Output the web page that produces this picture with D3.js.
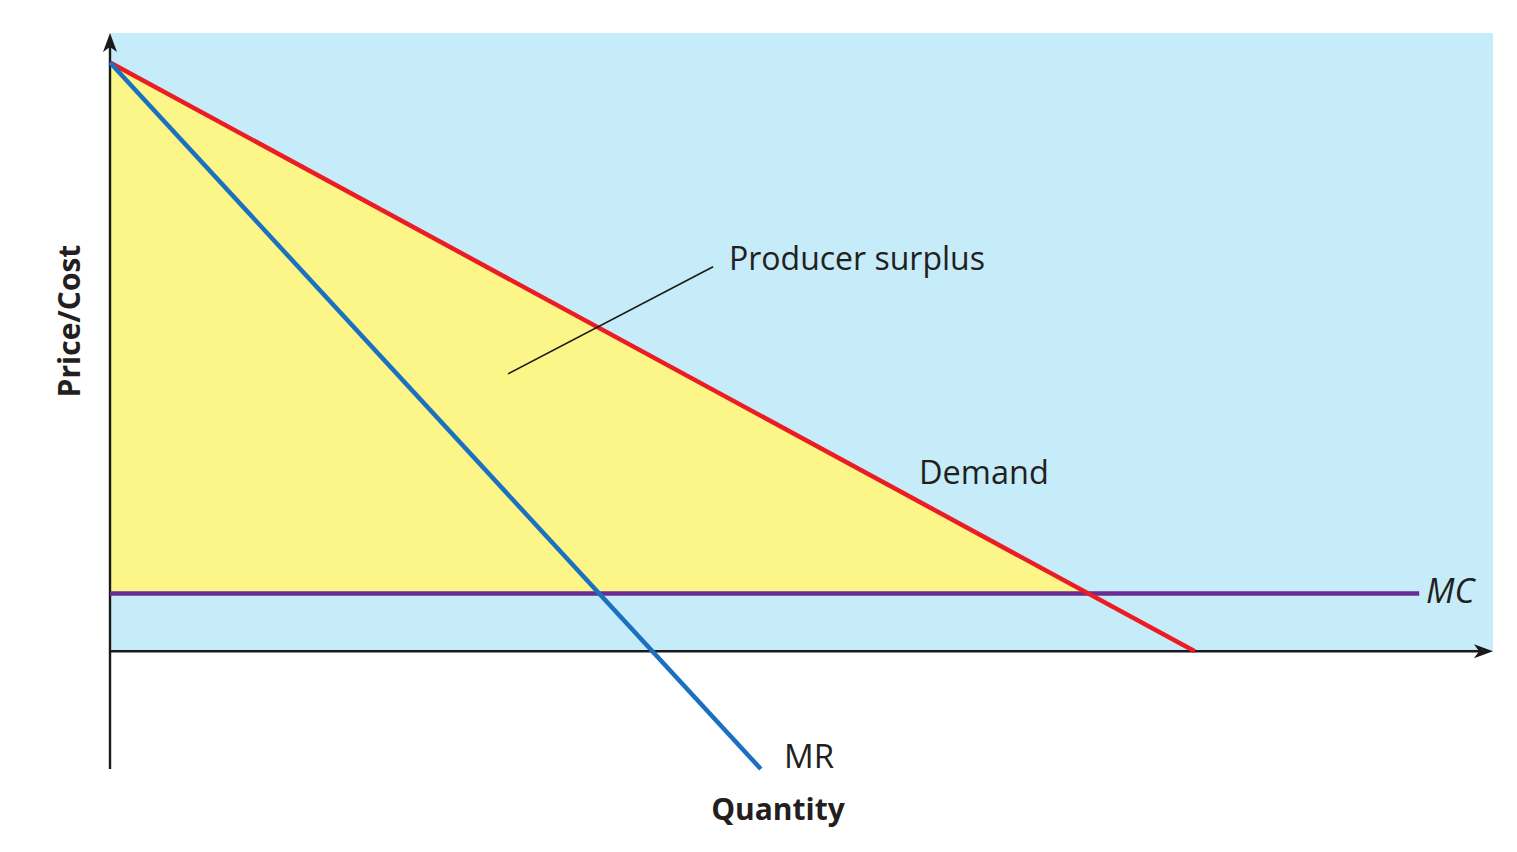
<!DOCTYPE html>
<html><head><meta charset="utf-8">
<script src="https://cdn.jsdelivr.net/npm/d3@7"></script>
<style>html,body{margin:0;padding:0;background:#fff;}svg{display:block;}</style>
</head><body>
<svg id="c" width="1517" height="852"></svg>
<script>
// Data (price/cost units vs quantity units)
const demand = [{q:0,p:100},{q:100,p:0}];
const mr = [{q:0,p:100},{q:60,p:-20}];
const mc = [{q:0,p:9.8},{q:120.7,p:9.8}];
const surplus = [{q:0,p:100},{q:0,p:9.8},{q:90.2,p:9.8}];
const qDomain = [0, 127.5];
const pDomain = [-20, 105];
const labels = {x:"Quantity", y:"Price/Cost", demand:"Demand", mr:"MR", mc:"MC", ps:"Producer surplus"};

const svg = d3.select("#c");
const x = d3.scaleLinear().domain(qDomain).range([110, 1493]);
const y = d3.scaleLinear().domain(pDomain).range([769, 33]);
const font = "'Open Sans', 'Noto Sans', sans-serif";

// background
svg.append("rect").attr("x", x(0)).attr("y", y(105)).attr("width", x(127.5)-x(0)).attr("height", y(0)-y(105)).attr("fill", "#c6ecf9");

const line = d3.line().x(d=>x(d.q)).y(d=>y(d.p));
svg.append("path").attr("d", line(surplus)+"Z").attr("fill", "#fbf687");

// axes
svg.append("line").attr("x1", x(0)).attr("y1", y(-20)).attr("x2", x(0)).attr("y2", y(105)+6).attr("stroke","#1a1a1a").attr("stroke-width",2.4);
svg.append("path").attr("d", `M${x(0)},${y(105)} L${x(0)-7},${y(105)+19} L${x(0)},${y(105)+14} L${x(0)+7},${y(105)+19} Z`).attr("fill","#1a1a1a");
svg.append("line").attr("x1", x(0)).attr("y1", y(0)).attr("x2", x(127.5)-6).attr("y2", y(0)).attr("stroke","#1a1a1a").attr("stroke-width",2.4);
svg.append("path").attr("d", `M${x(127.5)},${y(0)} L${x(127.5)-19},${y(0)-7} L${x(127.5)-14},${y(0)} L${x(127.5)-19},${y(0)+7} Z`).attr("fill","#1a1a1a");

// curves
svg.append("path").attr("d", line(mc)).attr("stroke","#6a2b93").attr("stroke-width",4.5).attr("fill","none");
svg.append("path").attr("d", line(demand)).attr("stroke","#ec1c24").attr("stroke-width",4.5).attr("fill","none");
svg.append("path").attr("d", line(mr)).attr("stroke","#1b70c0").attr("stroke-width",4.5).attr("fill","none");

// pointer line for producer surplus
svg.append("line").attr("x1", x(36.7)).attr("y1", y(47.1)).attr("x2", x(55.6)).attr("y2", y(65.3)).attr("stroke","#1a1a1a").attr("stroke-width",1.6);

const txt = (t, xx, yy, opts={}) => svg.append("text").attr("x", xx).attr("y", yy).text(t)
  .attr("font-family", font).attr("font-size", opts.size||32.5).attr("fill","#231f20")
  .attr("font-weight", opts.weight||"normal").attr("font-style", opts.style||"normal")
  .attr("text-anchor", opts.anchor||"start").attr("dominant-baseline","middle");

txt(labels.ps, 729, 261, {size:32});
txt(labels.demand, 919, 475, {size:32.5});
txt(labels.mc, 1426, 594, {style:"italic", size:34});
txt(labels.mr, 784, 759, {size:33});
txt(labels.x, 778, 812, {weight:"bold", anchor:"middle", size:30});
svg.append("text").attr("transform","translate(72,321) rotate(-90)").text(labels.y)
  .attr("font-family", font).attr("font-size",30).attr("font-weight","bold").attr("fill","#231f20")
  .attr("text-anchor","middle").attr("dominant-baseline","middle");
</script>
</body></html>
